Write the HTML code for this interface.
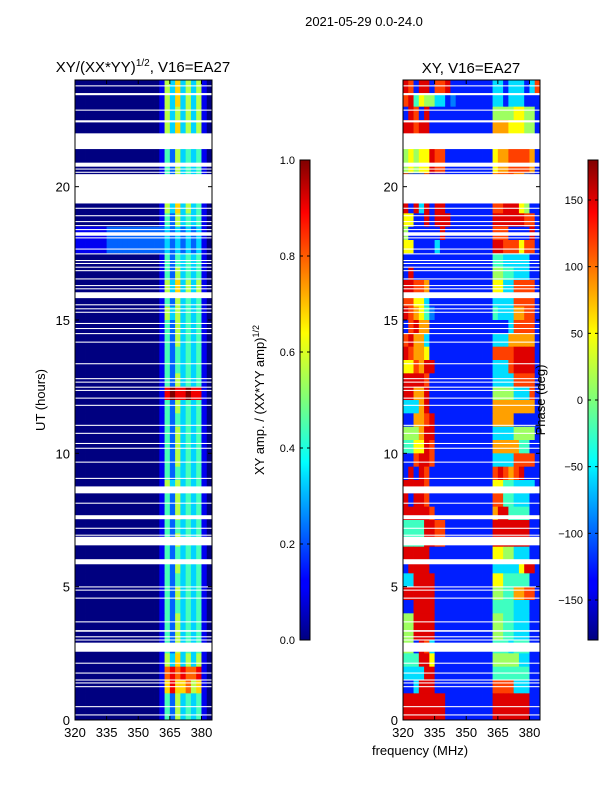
<!DOCTYPE html>
<html><head><meta charset="utf-8"><style>
body{margin:0;background:#fff;}
svg text{font-family:"Liberation Sans",sans-serif;fill:#000;}
</style></head><body>
<svg id="fig" width="600" height="800" xmlns="http://www.w3.org/2000/svg">
<defs>
<linearGradient id="jetv" x1="0" y1="1" x2="0" y2="0">
<stop offset="0" stop-color="#000080"/><stop offset="0.11" stop-color="#0000ff"/><stop offset="0.125" stop-color="#0000ff"/>
<stop offset="0.34" stop-color="#00dcff"/><stop offset="0.37" stop-color="#00ffff"/><stop offset="0.5" stop-color="#7dff7a"/>
<stop offset="0.64" stop-color="#ffff00"/><stop offset="0.66" stop-color="#ffea00"/><stop offset="0.89" stop-color="#ff0000"/><stop offset="1" stop-color="#800000"/>
</linearGradient>
</defs>
<text x="364" y="26" font-size="13" text-anchor="middle">2021-05-29 0.0-24.0</text>
<g id="p1"></g>
<g id="p2"></g>
<g id="axes"></g>
</svg>
<script>
const freqMin = 320, freqMax = 385, hourMin = 0, hourMax = 24;
const xTicks = [320, 335, 350, 365, 380];
const yTicks = [0, 5, 10, 15, 20];
const ampTicks = [0.0, 0.2, 0.4, 0.6, 0.8, 1.0];
const phaseTicks = [-150, -100, -50, 0, 50, 100, 150];
// rows top (23.5-24h) to bottom (0-0.5h), 26 freq cols of 2.5 MHz
const ampRows = [
"0000000000000000"+"1536353510","0000000000000000"+"1536353510","0000000000000000"+"1535353510","0000000000000000"+"1536353510",
"0000000000000000"+"1425343410","0000000000000000"+"1425343410","0000000000000000"+"1425343410","0000000000000000"+"1425343410",
"0000000000000000"+"1536343510","0000000000000000"+"1536353410","0000000000000000"+"1425343410","1111112222222222"+"2323232310",
"1111112222222222"+"2323232310","0000000000000000"+"1424343410","0000000000000000"+"1425343410","0000000000000000"+"1536353510",
"0000000000000000"+"1425343410","0000000000000000"+"1535343410","0000000000000000"+"1425343410","0000000000000000"+"1425343410",
"0000000000000000"+"1424343410","0000000000000000"+"1424343410","0000000000000000"+"1425343410","0000000000000000"+"1898898810",
"0000000000000000"+"1425343410","0000000000000000"+"1424343410","0000000000000000"+"1425343410","0000000000000000"+"1425343410",
"0000000000000000"+"1425343410","0000000000000000"+"1424343410","0000000000000000"+"1535343410","0000000000000000"+"1425343410",
"0000000000000000"+"1425343410","0000000000000000"+"1424343410","0000000000000000"+"1425343410","0000000000000000"+"1424343410",
"0000000000000000"+"1425343410","0000000000000000"+"1424343410","0000000000000000"+"1425343410","0000000000000000"+"1424343410",
"0000000000000000"+"1425343410","0000000000000000"+"1425343410","0000000000000000"+"1425343410","0000000000000000"+"1536353510",
"0000000000000000"+"1787877810","0000000000000000"+"1686675610","0000000000000000"+"1425343410","0000000000000000"+"1425343410"
];
const phaseRows = [
"9819918891"+"1111111"+"33133313"+"8","8946553312"+"1111111"+"33133311"+"1","1981911111"+"1111111"+"55556655"+"1","9989911111"+"1111111"+"77766655"+"1",
"9989911111"+"1111111"+"77766655"+"1","5656698811"+"1111111"+"67788887"+"1","5656698811"+"1111111"+"67788887"+"1","9111911111"+"1111111"+"88887721"+"1",
"1121889911"+"1111111"+"88887721"+"1","9193919911"+"1111111"+"88999651"+"1","6611919991"+"1111111"+"99999988"+"1","5111111911"+"1111111"+"88811119"+"1",
"6611113111"+"1111111"+"99888688"+"1","1111111111"+"1111111"+"44333331"+"1","1911111111"+"1111111"+"55443331"+"1","9988711111"+"1111111"+"66338888"+"1",
"8866311111"+"1111111"+"33338888"+"1","9876421111"+"1111111"+"43337788"+"1","1897711111"+"1111111"+"11138888"+"1","8977311111"+"1111111"+"33377777"+"1",
"9877611111"+"1111111"+"88889999"+"1","6687991111"+"1111111"+"33389999"+"1","9999811111"+"1111111"+"33338888"+"1","9977911111"+"1111111"+"55553338"+"1",
"3337911111"+"1111111"+"77777777"+"1","1177891111"+"1111111"+"77771111"+"1","5557991111"+"1111111"+"33335555"+"1","4466981111"+"1111111"+"77777441"+"1",
"1189981111"+"1111111"+"33338888"+"1","1919811111"+"1111111"+"89878911"+"1","9999811111"+"1111111"+"66443333"+"1","9199811111"+"1111111"+"88443331"+"1",
"9999981111"+"1111111"+"79944441"+"1","4444998811"+"1111111"+"99999991"+"1","4444998811"+"1111111"+"99999991"+"1","9999911111"+"1111111"+"66553331"+"1",
"1999911111"+"1111111"+"33333699"+"1","3399991111"+"1111111"+"66444441"+"1","9999991111"+"1111111"+"55447788"+"1","1199991111"+"1111111"+"44443331"+"1",
"5599991111"+"1111111"+"55443331"+"1","5599991111"+"1111111"+"55443331"+"1","5519831111"+"1111111"+"44434441"+"1","4449961111"+"1111111"+"55555331"+"1",
"3333991111"+"1111111"+"44444441"+"1","1139991111"+"1111111"+"88883331"+"1","9999999911"+"1111111"+"99999991"+"1","9999999911"+"1111111"+"99999991"+"1"
];
// flagged (white) time intervals in hours [start, end]
const flagStart = [23.76,23.43,22.85,22.41,21.41,20.75,20.64,20.52,19.37,19.17,18.89,18.67,18.52,18.37,18.16,18.06,17.64,17.46,17.21,17.10,16.96,16.83,16.52,16.27,16.15,15.82,15.55,15.40,15.27,14.85,14.66,14.47,14.15,13.34,12.78,12.65,12.46,12.34,12.05,11.78,11.03,10.73,10.35,10.17,9.65,9.04,8.50,8.11,7.53,7.17,6.91,6.55,5.84,4.97,4.85,4.55,3.66,3.31,3.10,2.98,2.56,2.11,1.74,1.48,1.37,1.23,0.48,0.17];
const flagEnd   = [23.80,23.51,22.89,22.49,22.00,20.90,20.68,20.56,20.47,19.21,18.93,18.71,18.56,18.41,18.29,18.10,17.68,17.50,17.25,17.14,17.00,16.87,16.56,16.31,16.19,16.04,15.59,15.44,15.31,14.89,14.70,14.51,14.19,13.38,12.82,12.69,12.50,12.38,12.09,11.82,11.07,10.77,10.39,10.21,9.69,9.08,8.76,8.15,7.68,7.21,6.95,6.87,6.03,5.01,4.89,4.59,3.70,3.37,3.14,3.02,2.90,2.15,1.78,1.52,1.41,1.27,0.52,0.21];

const NS="http://www.w3.org/2000/svg";
const svg=document.getElementById('fig');
function mk(tag,attrs,parent){const e=document.createElementNS(NS,tag);for(const k in attrs)e.setAttribute(k,attrs[k]);(parent||svg).appendChild(e);return e;}
function jet(v){v=Math.max(0,Math.min(1,v));
 const r=Math.max(0,Math.min(1,1.5-Math.abs(4*v-3))),g=Math.max(0,Math.min(1,1.5-Math.abs(4*v-2))),b=Math.max(0,Math.min(1,1.5-Math.abs(4*v-1)));
 return `rgb(${Math.round(r*255)},${Math.round(g*255)},${Math.round(b*255)})`;}
const panels=[{x0:75,x1:212,g:'p1',rows:ampRows,name:'amp',map:d=>d/9},{x0:403,x1:540,g:'p2',rows:phaseRows,name:'phase',map:d=>0.06+d*0.094}];
const yTop=80,yBot=720;
function yScale(h){return yBot-(h-hourMin)/(hourMax-hourMin)*(yBot-yTop);}
panels.forEach(p=>{
 const g=document.getElementById(p.g);
 const xs=f=>p.x0+(f-freqMin)/(freqMax-freqMin)*(p.x1-p.x0);
 const nR=p.rows.length, nC=p.rows[0].length, dH=(hourMax-hourMin)/nR, dF=(freqMax-freqMin)/nC;
 p.rows.forEach((row,r)=>{
  const hTop=hourMax-r*dH, hBot=hTop-dH;
  for(let c=0;c<nC;c++){
   const x=xs(freqMin+c*dF), x2=xs(freqMin+(c+1)*dF);
   const cell=mk('rect',{x:x,y:yScale(hTop),width:x2-x+0.4,height:yScale(hBot)-yScale(hTop)+0.4,fill:jet(p.map(+row[c]))},g);
   
   
  }
 });
 flagStart.forEach((s,i)=>{
  const fr=mk('rect',{x:p.x0,y:yScale(flagEnd[i]),width:p.x1-p.x0,height:yScale(s)-yScale(flagEnd[i]),fill:'#fff'},g);
  
  
 });
 const ax=document.getElementById('axes');
 const fr=mk('rect',{x:p.x0,y:yTop,width:p.x1-p.x0,height:yBot-yTop,fill:'none',stroke:'#000','stroke-width':1},ax);
 
 
 xTicks.forEach(t=>{const x=xs(t);
  mk('line',{x1:x,y1:yBot,x2:x,y2:yBot-4,stroke:'#000'},ax);mk('line',{x1:x,y1:yTop,x2:x,y2:yTop+4,stroke:'#000'},ax);
  const tl=mk('text',{x:x,y:yBot+17,'font-size':13,'text-anchor':'middle'},ax);tl.textContent=t;
  
  
 });
 yTicks.forEach(t=>{const y=yScale(t);
  mk('line',{x1:p.x0,y1:y,x2:p.x0+4,y2:y,stroke:'#000'},ax);mk('line',{x1:p.x1,y1:y,x2:p.x1-4,y2:y,stroke:'#000'},ax);
  const tl=mk('text',{x:p.x0-5,y:y+5,'font-size':13,'text-anchor':'end'},ax);tl.textContent=t;
  
  
 });
});
const ax=document.getElementById('axes');
function cbar(x,ticks,vmin,vmax,name){
 const b=mk('rect',{x:x,y:160,width:10,height:480,fill:'url(#jetv)',stroke:'#000','stroke-width':1},ax);
 
 
 ticks.forEach(t=>{const y=640-(t-vmin)/(vmax-vmin)*480;
  mk('line',{x1:x,y1:y,x2:x+3,y2:y,stroke:'#000'},ax);mk('line',{x1:x+10,y1:y,x2:x+7,y2:y,stroke:'#000'},ax);
  const tl=mk('text',{x:x-5,y:y+4,'font-size':11,'text-anchor':'end'},ax);
  tl.textContent=(name==='amp-colorbar')?t.toFixed(1):String(t).replace('-','\u2212');
  
  
 });
}
cbar(300,ampTicks,0,1,'amp-colorbar');
cbar(588,phaseTicks,-180,180,'phase-colorbar');
</script>
<svg width="600" height="800" style="position:absolute;left:0;top:0" xmlns="http://www.w3.org/2000/svg">
<text x="143" y="72" font-size="15" text-anchor="middle">XY/(XX*YY)<tspan dy="-6" font-size="10">1/2</tspan><tspan dy="6">, V16=EA27</tspan></text>
<text x="471" y="73" font-size="15" text-anchor="middle">XY, V16=EA27</text>
<text transform="translate(45,400) rotate(-90)" font-size="13" text-anchor="middle">UT (hours)</text>
<text x="420" y="755" font-size="13" text-anchor="middle">frequency (MHz)</text>
<text transform="translate(264,400) rotate(-90)" font-size="13" text-anchor="middle">XY amp. / (XX*YY amp)<tspan dy="-5" font-size="9">1/2</tspan></text>
<text transform="translate(545,400) rotate(-90)" font-size="13" text-anchor="middle">Phase (deg)</text>
</svg>
</body></html>
